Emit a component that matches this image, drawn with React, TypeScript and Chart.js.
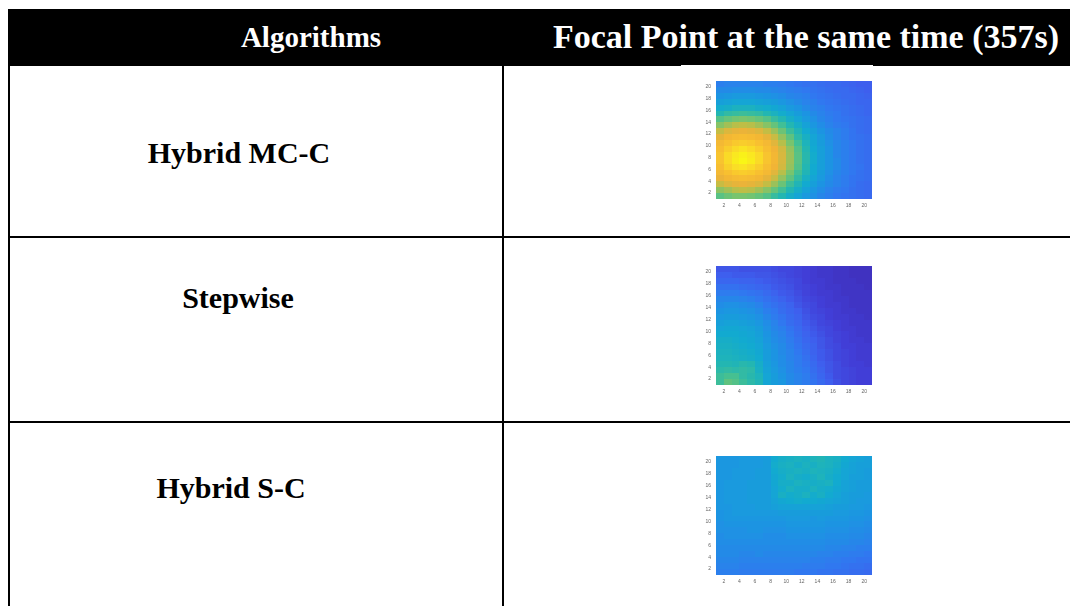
import React, { useEffect, useRef } from "react";
import { Chart, registerables } from "chart.js";

Chart.register(...registerables);

// ---------- data ----------
const HEADERS = ["Algorithms", "Focal Point at the same time (357s)"];
const ALGORITHMS = ["Hybrid MC-C", "Stepwise", "Hybrid S-C"];
const X_TICKS = [2, 4, 6, 8, 10, 12, 14, 16, 18, 20];
const Y_TICKS = [2, 4, 6, 8, 10, 12, 14, 16, 18, 20];
const COLUMNS = [1, 2, 3, 4, 5, 6, 7, 8, 9, 10, 11, 12, 13, 14, 15, 16, 17, 18, 19, 20];
const ROWS = [20, 19, 18, 17, 16, 15, 14, 13, 12, 11, 10, 9, 8, 7, 6, 5, 4, 3, 2, 1];

// intensity (%) per cell, rows listed from top (y=20) to bottom (y=1)
const HYBRID_MC_C = [
  [24, 25, 25, 25, 25, 25, 24, 24, 23, 22, 21, 20, 20, 19, 18, 18, 17, 16, 15, 15],
  [27, 27, 28, 28, 28, 27, 27, 26, 25, 24, 23, 22, 21, 20, 19, 18, 18, 17, 16, 15],
  [30, 31, 32, 32, 32, 31, 30, 29, 28, 26, 25, 24, 22, 21, 20, 19, 18, 18, 17, 16],
  [34, 35, 36, 36, 36, 35, 34, 33, 31, 29, 27, 25, 24, 22, 21, 20, 19, 18, 17, 17],
  [39, 40, 42, 42, 42, 40, 39, 37, 35, 32, 30, 27, 25, 24, 22, 21, 20, 19, 18, 17],
  [45, 48, 49, 50, 49, 48, 45, 42, 39, 36, 33, 30, 27, 25, 23, 22, 20, 19, 18, 17],
  [54, 57, 59, 60, 59, 57, 54, 49, 45, 40, 36, 32, 29, 26, 24, 22, 21, 20, 19, 18],
  [62, 66, 69, 70, 69, 66, 62, 57, 51, 45, 40, 35, 31, 28, 25, 23, 22, 20, 19, 18],
  [71, 76, 78, 79, 78, 76, 71, 65, 58, 50, 44, 38, 34, 30, 27, 25, 23, 21, 19, 18],
  [78, 83, 85, 86, 85, 83, 78, 72, 64, 56, 47, 41, 36, 32, 28, 25, 23, 21, 20, 19],
  [84, 88, 90, 91, 90, 88, 84, 77, 69, 60, 51, 43, 37, 33, 29, 26, 24, 22, 20, 19],
  [87, 91, 94, 96, 94, 91, 87, 81, 74, 64, 54, 45, 38, 34, 30, 26, 24, 22, 20, 19],
  [89, 94, 97, 99, 97, 94, 89, 83, 75, 65, 55, 46, 39, 34, 30, 26, 24, 22, 20, 19],
  [89, 94, 98, 100, 98, 94, 89, 83, 75, 65, 55, 46, 39, 34, 30, 27, 24, 22, 20, 19],
  [87, 92, 95, 96, 94, 91, 87, 81, 74, 64, 54, 45, 38, 34, 30, 27, 24, 22, 21, 19],
  [84, 88, 90, 91, 90, 88, 84, 77, 69, 60, 51, 44, 38, 33, 29, 26, 24, 22, 20, 19],
  [79, 83, 85, 86, 85, 83, 78, 72, 64, 56, 48, 41, 36, 32, 28, 25, 23, 21, 20, 19],
  [72, 76, 78, 79, 78, 76, 71, 65, 58, 50, 44, 38, 34, 30, 27, 25, 23, 21, 19, 18],
  [63, 66, 69, 70, 69, 66, 62, 57, 51, 45, 40, 35, 31, 28, 25, 23, 22, 20, 19, 18],
  [55, 58, 60, 60, 59, 57, 54, 49, 45, 40, 36, 32, 29, 26, 24, 22, 21, 20, 19, 18],
];

const STEPWISE = [
  [13, 13, 13, 12, 12, 12, 12, 11, 10, 10, 9, 8, 7, 6, 6, 5, 5, 4, 4, 4],
  [15, 15, 14, 14, 14, 13, 13, 12, 11, 10, 9, 8, 7, 6, 6, 5, 5, 4, 4, 4],
  [17, 17, 17, 16, 16, 15, 14, 13, 12, 11, 10, 8, 7, 7, 6, 5, 5, 5, 4, 4],
  [20, 20, 20, 19, 18, 17, 16, 14, 13, 12, 10, 9, 8, 7, 6, 6, 5, 5, 5, 4],
  [23, 23, 23, 22, 21, 20, 18, 16, 14, 13, 11, 9, 8, 7, 7, 6, 5, 5, 5, 5],
  [26, 26, 26, 25, 24, 22, 20, 18, 16, 14, 12, 10, 9, 8, 7, 6, 6, 5, 5, 5],
  [28, 29, 29, 28, 27, 25, 22, 20, 18, 16, 13, 11, 10, 8, 7, 7, 6, 5, 5, 5],
  [30, 31, 31, 30, 29, 27, 24, 22, 19, 17, 15, 12, 10, 9, 8, 7, 6, 6, 5, 5],
  [32, 33, 33, 32, 31, 29, 26, 23, 21, 18, 16, 13, 11, 10, 8, 7, 7, 6, 6, 5],
  [34, 35, 35, 34, 33, 31, 28, 25, 22, 19, 17, 14, 12, 10, 9, 8, 7, 6, 6, 6],
  [36, 37, 37, 36, 35, 33, 29, 26, 24, 21, 18, 15, 13, 11, 10, 8, 7, 7, 6, 6],
  [38, 38, 38, 37, 36, 34, 30, 27, 25, 22, 19, 16, 14, 12, 10, 9, 8, 7, 6, 6],
  [40, 40, 39, 38, 37, 35, 31, 28, 26, 23, 20, 17, 15, 13, 11, 9, 8, 7, 7, 6],
  [41, 41, 40, 39, 38, 36, 32, 29, 27, 24, 21, 18, 16, 13, 11, 10, 8, 8, 7, 7],
  [42, 42, 41, 40, 39, 37, 33, 30, 27, 25, 22, 19, 16, 14, 12, 10, 9, 8, 7, 7],
  [43, 43, 42, 41, 40, 38, 33, 30, 28, 25, 23, 20, 17, 14, 12, 10, 9, 8, 7, 7],
  [45, 45, 44, 46, 45, 40, 34, 31, 28, 26, 23, 21, 18, 15, 13, 11, 9, 8, 8, 7],
  [47, 48, 47, 48, 47, 41, 35, 32, 29, 26, 24, 22, 19, 16, 13, 11, 10, 9, 8, 8],
  [50, 52, 52, 48, 46, 43, 36, 33, 30, 27, 25, 23, 20, 17, 14, 11, 10, 9, 8, 8],
  [50, 56, 54, 50, 47, 44, 36, 33, 31, 27, 25, 23, 21, 18, 15, 12, 10, 9, 8, 8],
];

const HYBRID_S_C = [
  [31, 31, 31, 32, 32, 32, 33, 38, 40, 41, 42, 41, 43, 44, 42, 41, 38, 36, 35, 34],
  [31, 31, 31, 32, 32, 32, 33, 39, 41, 42, 40, 42, 41, 43, 42, 40, 37, 35, 34, 34],
  [31, 31, 32, 32, 32, 33, 33, 38, 40, 41, 42, 41, 43, 42, 41, 39, 36, 35, 34, 33],
  [31, 31, 32, 32, 32, 33, 33, 37, 39, 42, 40, 39, 41, 43, 40, 38, 36, 34, 34, 33],
  [31, 32, 32, 32, 33, 33, 33, 37, 40, 40, 42, 41, 40, 41, 42, 38, 35, 34, 33, 33],
  [31, 32, 32, 32, 33, 33, 33, 36, 39, 42, 40, 40, 42, 40, 39, 37, 35, 34, 33, 33],
  [31, 32, 32, 32, 33, 33, 33, 36, 41, 39, 40, 42, 39, 41, 38, 36, 34, 33, 33, 32],
  [31, 32, 32, 32, 33, 33, 33, 35, 37, 38, 39, 38, 38, 37, 36, 35, 34, 33, 32, 32],
  [31, 31, 32, 32, 32, 33, 33, 34, 35, 35, 35, 35, 35, 35, 34, 33, 33, 32, 32, 31],
  [30, 31, 32, 32, 32, 32, 32, 32, 33, 33, 33, 33, 33, 33, 33, 32, 32, 31, 31, 30],
  [30, 31, 31, 31, 31, 31, 31, 31, 31, 32, 32, 32, 31, 32, 31, 31, 31, 30, 30, 29],
  [29, 30, 30, 30, 30, 30, 30, 30, 30, 31, 31, 31, 31, 31, 30, 30, 30, 29, 29, 28],
  [29, 29, 29, 29, 30, 30, 29, 29, 29, 30, 30, 30, 30, 30, 29, 29, 29, 28, 28, 27],
  [28, 29, 29, 29, 29, 29, 28, 28, 28, 29, 29, 29, 29, 29, 28, 28, 28, 27, 27, 26],
  [28, 28, 28, 28, 28, 28, 28, 28, 28, 28, 28, 28, 28, 28, 27, 27, 27, 26, 26, 25],
  [27, 27, 27, 27, 27, 27, 27, 27, 27, 27, 27, 27, 27, 27, 26, 26, 25, 25, 24, 24],
  [27, 27, 27, 26, 26, 27, 26, 26, 26, 26, 26, 26, 26, 25, 25, 24, 24, 23, 23, 22],
  [26, 26, 26, 25, 25, 25, 25, 25, 25, 25, 25, 25, 24, 24, 23, 23, 22, 22, 21, 21],
  [25, 25, 25, 24, 24, 24, 24, 24, 24, 24, 24, 23, 23, 23, 22, 22, 21, 20, 20, 19],
  [24, 24, 24, 23, 23, 23, 23, 23, 23, 23, 22, 22, 22, 21, 21, 20, 20, 19, 19, 18],
];

const MATRICES = [HYBRID_MC_C, STEPWISE, HYBRID_S_C];

// parula-like colour map stops
const CMAP_STOPS: [number, number, number, number][] = [
  [0.0, 62, 38, 168],
  [0.08, 65, 62, 215],
  [0.15, 62, 95, 238],
  [0.22, 48, 120, 240],
  [0.3, 28, 148, 226],
  [0.38, 18, 170, 208],
  [0.45, 35, 182, 178],
  [0.52, 70, 192, 145],
  [0.6, 120, 196, 110],
  [0.7, 190, 190, 70],
  [0.8, 240, 178, 55],
  [0.88, 248, 192, 48],
  [0.95, 250, 222, 38],
  [1.0, 249, 246, 22],
];

function cmap(t: number): string {
  const v = Math.max(0, Math.min(1, t));
  for (let i = 1; i < CMAP_STOPS.length; i++) {
    const a = CMAP_STOPS[i - 1];
    const b = CMAP_STOPS[i];
    if (v <= b[0]) {
      const f = (v - a[0]) / (b[0] - a[0]);
      const r = Math.round(a[1] + (b[1] - a[1]) * f);
      const g = Math.round(a[2] + (b[2] - a[2]) * f);
      const bl = Math.round(a[3] + (b[3] - a[3]) * f);
      return `rgb(${r},${g},${bl})`;
    }
  }
  const l = CMAP_STOPS[CMAP_STOPS.length - 1];
  return `rgb(${l[1]},${l[2]},${l[3]})`;
}

const heatCells = {
  id: "heatCells",
  beforeDatasetsDraw(chart: any) {
    const { ctx, scales } = chart;
    const xs = scales.x;
    const ys = scales.y;
    const pts = chart.data.datasets[0].data as { x: number; y: number; v: number }[];
    ctx.save();
    ctx.filter = "blur(0.5px)";
    for (const p of pts) {
      const x0 = Math.round(xs.getPixelForValue(p.x - 0.5));
      const x1 = Math.round(xs.getPixelForValue(p.x + 0.5));
      const y0 = Math.round(ys.getPixelForValue(p.y + 0.5));
      const y1 = Math.round(ys.getPixelForValue(p.y - 0.5));
      ctx.fillStyle = cmap(p.v / 100);
      ctx.fillRect(x0, y0, x1 - x0, y1 - y0);
    }
    ctx.restore();
  },
};

function Heatmap({ matrix, left, top, areaW, areaH }: { matrix: number[][]; left: number; top: number; areaW: number; areaH: number }) {
  const ref = useRef<HTMLCanvasElement | null>(null);
  const padTop = 4;
  const padRight = 4;
  const yAxisW = 20;
  const xAxisH = 12;
  const width = areaW + yAxisW + padRight;
  const height = areaH + padTop + xAxisH;

  useEffect(() => {
    if (!ref.current) return;
    const points: { x: number; y: number; v: number }[] = [];
    ROWS.forEach((row, i) => {
      COLUMNS.forEach((col, j) => {
        points.push({ x: col + 0.5, y: row + 0.5, v: matrix[i][j] });
      });
    });
    const tickFont = { family: "'Liberation Sans', Arial, sans-serif", size: 5 };
    const chart = new Chart(ref.current, {
      type: "scatter",
      data: { datasets: [{ data: points, pointRadius: 0, pointHoverRadius: 0 }] },
      options: {
        animation: false,
        responsive: false,
        maintainAspectRatio: false,
        devicePixelRatio: 1,
        events: [],
        layout: { padding: { top: padTop, right: padRight, left: 0, bottom: 0 } },
        plugins: { legend: { display: false }, tooltip: { enabled: false } },
        scales: {
          x: {
            type: "linear",
            min: 1,
            max: 21,
            afterBuildTicks: (s: any) => {
              s.ticks = X_TICKS.map((v) => ({ value: v }));
            },
            afterFit: (s: any) => {
              s.height = xAxisH;
            },
            grid: { display: false, drawTicks: false },
            border: { display: false },
            ticks: { font: tickFont, color: "#666", padding: 4, maxRotation: 0, autoSkip: false },
          },
          y: {
            type: "linear",
            min: 1,
            max: 21,
            afterBuildTicks: (s: any) => {
              s.ticks = Y_TICKS.map((v) => ({ value: v }));
            },
            afterFit: (s: any) => {
              s.width = yAxisW;
            },
            grid: { display: false, drawTicks: false },
            border: { display: false },
            ticks: { font: tickFont, color: "#666", padding: 5, autoSkip: false },
          },
        },
      },
      plugins: [heatCells],
    });
    return () => chart.destroy();
  }, [matrix]);

  return (
    <canvas
      ref={ref}
      width={width}
      height={height}
      style={{ position: "absolute", left: left - yAxisW, top: top - padTop, width, height }}
    />
  );
}

const serif = "'Liberation Serif', 'Times New Roman', serif";

function Label({ text, cx, cy, size, color }: { text: string; cx: number; cy: number; size: number; color: string }) {
  return (
    <div
      style={{
        position: "absolute",
        left: cx,
        top: cy,
        transform: "translate(-50%, -50%)",
        whiteSpace: "nowrap",
        fontFamily: serif,
        fontWeight: "bold",
        fontSize: size,
        color,
        lineHeight: 1,
      }}
    >
      {text}
    </div>
  );
}

const line = (l: number, t: number, w: number, h: number) => (
  <div style={{ position: "absolute", left: l, top: t, width: w, height: h, background: "#000" }} />
);

export default function App() {
  const areas = [
    { top: 77, h: 122 },
    { top: 262, h: 123 },
    { top: 452, h: 123 },
  ];
  const labelY = [153, 298, 488];
  const labelX = [239, 238, 231];
  return (
    <div style={{ position: "absolute", left: 0, top: 0, width: 1070, height: 606, overflow: "hidden", background: "#fff" }}>
      <div style={{ position: "absolute", left: 8, top: 9, width: 1062, height: 57, background: "#000" }} />
      <Label text={HEADERS[0]} cx={311} cy={37} size={29} color="#fff" />
      <Label text={HEADERS[1]} cx={806} cy={37} size={34} color="#fff" />
      <div style={{ position: "absolute", left: 681, top: 65, width: 192, height: 2, background: "#fff" }} />
      {line(8, 66, 2, 540)}
      {line(502, 66, 2, 540)}
      {line(8, 236, 1062, 2)}
      {line(8, 421, 1062, 2)}
      {ALGORITHMS.map((a, i) => (
        <Label key={a} text={a} cx={labelX[i]} cy={labelY[i]} size={30} color="#000" />
      ))}
      {MATRICES.map((m, i) => (
        <Heatmap key={i} matrix={m} left={716} top={areas[i].top} areaW={156} areaH={areas[i].h} />
      ))}
    </div>
  );
}
